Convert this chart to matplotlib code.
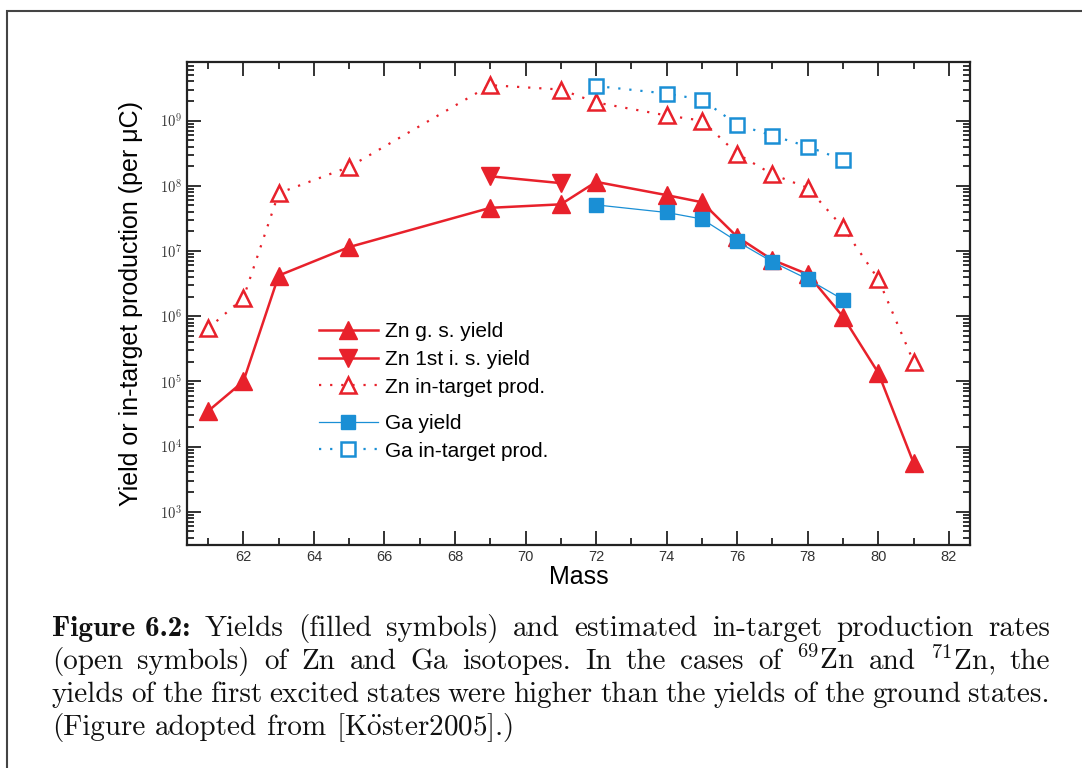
import numpy as np
import matplotlib
matplotlib.use("Agg")
import matplotlib.pyplot as plt
from matplotlib.patches import Rectangle
from matplotlib.ticker import LogLocator, MultipleLocator, FixedLocator, NullFormatter

plt.rcParams["mathtext.fontset"] = "cm"

# data
zn_gs_mass = [61, 62, 63, 65, 69, 71, 72, 74, 75, 76, 77, 78, 79, 80, 81]
zn_gs_yield = [3.5e4, 1.0e5, 4.2e6, 1.15e7, 4.6e7, 5.2e7, 1.15e8, 7.2e7, 5.6e7,
               1.65e7, 7.3e6, 4.4e6, 9.8e5, 1.35e5, 5.6e3]

zn_is_mass = [69, 71]
zn_is_yield = [1.4e8, 1.1e8]

zn_prod_mass = [61, 62, 63, 65, 69, 71, 72, 74, 75, 76, 77, 78, 79, 80, 81]
zn_prod = [6.5e5, 1.9e6, 7.7e7, 1.95e8, 3.5e9, 3.0e9, 1.9e9, 1.2e9, 1.0e9,
           3.1e8, 1.5e8, 9.3e7, 2.3e7, 3.7e6, 2.0e5]

ga_mass = [72, 74, 75, 76, 77, 78, 79]
ga_yield = [5.1e7, 3.9e7, 3.1e7, 1.4e7, 6.8e6, 3.7e6, 1.8e6]
ga_prod = [3.4e9, 2.6e9, 2.1e9, 8.7e8, 5.9e8, 4.0e8, 2.5e8]

x_ticks = [62, 64, 66, 68, 70, 72, 74, 76, 78, 80, 82]
y_decades = [3, 4, 5, 6, 7, 8, 9]

caption_lines = [
    "Yields (filled symbols) and estimated in-target production rates",
    r"(open symbols) of Zn and Ga isotopes.  In the cases of $^{69}$Zn and $^{71}$Zn, the",
    "yields of the first excited states were higher than the yields of the ground states.",
    r"(Figure adopted from [K$\ddot{\mathrm{o}}$ster2005].)",
]

red = "#e8212b"
blue = "#1a8fd5"
W, H = 1082, 768

fig = plt.figure(figsize=(10.82, 7.68), dpi=100)
ax = fig.add_axes([0.1728, 0.2904, 0.7237, 0.6289])

ax.plot(zn_gs_mass, zn_gs_yield, color=red, lw=1.8, marker="^", ms=13,
        label="Zn g. s. yield")
ax.plot(zn_is_mass, zn_is_yield, color=red, lw=1.8, marker="v", ms=13,
        label="Zn 1st i. s. yield")
ax.plot(zn_prod_mass, zn_prod, color=red, lw=1.6, ls=(0, (1, 4)), marker="^",
        ms=12, mfc="white", mew=1.8, label="Zn in-target prod.")
ax.plot(ga_mass, ga_yield, color=blue, lw=0.9, marker="s", ms=10,
        label="Ga yield")
ax.plot(ga_mass, ga_prod, color=blue, lw=1.6, ls=(0, (1, 4)), marker="s",
        ms=10, mfc="white", mew=1.8, label="Ga in-target prod.")

ax.set_yscale("log")
ax.set_xlim(60.4, 82.6)
ax.set_ylim(10 ** 2.49, 10 ** 9.9)

ax.xaxis.set_major_locator(FixedLocator(x_ticks))
ax.xaxis.set_minor_locator(MultipleLocator(1))
ax.yaxis.set_major_locator(FixedLocator([10.0 ** d for d in y_decades]))
ax.yaxis.set_minor_locator(LogLocator(base=10, subs=np.arange(2, 10)))
ax.yaxis.set_minor_formatter(NullFormatter())
ax.set_yticklabels([r"$\mathsf{10^{%d}}$" % d for d in y_decades])
ax.set_xticklabels([str(t) for t in x_ticks])

ax.tick_params(which="both", direction="in", top=True, right=True, width=1.3,
               colors="#222222", labelcolor="#333333")
ax.tick_params(which="major", length=10, labelsize=10.5)
ax.tick_params(which="minor", length=5)
for tl in ax.get_xticklabels() + ax.get_yticklabels():
    tl.set_fontfamily("Liberation Sans")
for s in ax.spines.values():
    s.set_linewidth(1.6)
    s.set_color("#222222")

ax.set_xlabel("Mass", fontsize=18, family="Liberation Sans", labelpad=1)
ax.set_ylabel("Yield or in-target production (per \u03bcC)", fontsize=18,
              family="Liberation Sans", labelpad=12)

# legend in two groups, the Ga group sits a little lower
handles, labels = ax.get_legend_handles_labels()
leg_kw = dict(loc="upper left", frameon=False, handlelength=2.8,
              handletextpad=0.35, labelspacing=0.42,
              prop={"family": "Liberation Sans", "size": 15})
leg1 = ax.legend(handles[:3], labels[:3], bbox_to_anchor=(0.145, 0.5), **leg_kw)
ax.add_artist(leg1)
ax.legend(handles[3:], labels[3:], bbox_to_anchor=(0.145, 0.31), **leg_kw)

# page border around the figure
fig.patches.append(Rectangle((7 / W, -0.1), 1.2, 1.1 - 11 / H,
                             transform=fig.transFigure, fill=False,
                             lw=1.5, ec="#444444", clip_on=False))

# caption, justified like the LaTeX page
renderer = fig.canvas.get_renderer()
fs = 21
reg = {"fontsize": fs, "family": "cmr10", "color": "#111111", "va": "baseline"}
bold = {"fontsize": fs, "family": "cmb10", "color": "#111111", "va": "baseline"}


def put_line(words, styles, y_px, x0=52, x1=1050, justify=True):
    texts = [fig.text(0, 1 - y_px / H, w, **st) for w, st in zip(words, styles)]
    widths = [t.get_window_extent(renderer).width for t in texts]
    space = fig.text(0, 0, "a a", **reg)
    sw = space.get_window_extent(renderer).width
    space.set_text("aa")
    sw -= space.get_window_extent(renderer).width
    space.remove()
    gap = (x1 - x0 - sum(widths)) / (len(words) - 1) if justify else sw
    x = x0
    for t, w in zip(texts, widths):
        t.set_x(x / W)
        x += w + gap


baselines = [636, 669, 702, 735]
first = ["Figure 6.2:"] + caption_lines[0].split()
put_line(first, [bold] + [reg] * (len(first) - 1), baselines[0])
for i in (1, 2):
    words = caption_lines[i].split()
    put_line(words, [reg] * len(words), baselines[i])
last = caption_lines[3].split()
put_line(last, [reg] * len(last), baselines[3], justify=False)

fig.savefig("out.png", dpi=100)
